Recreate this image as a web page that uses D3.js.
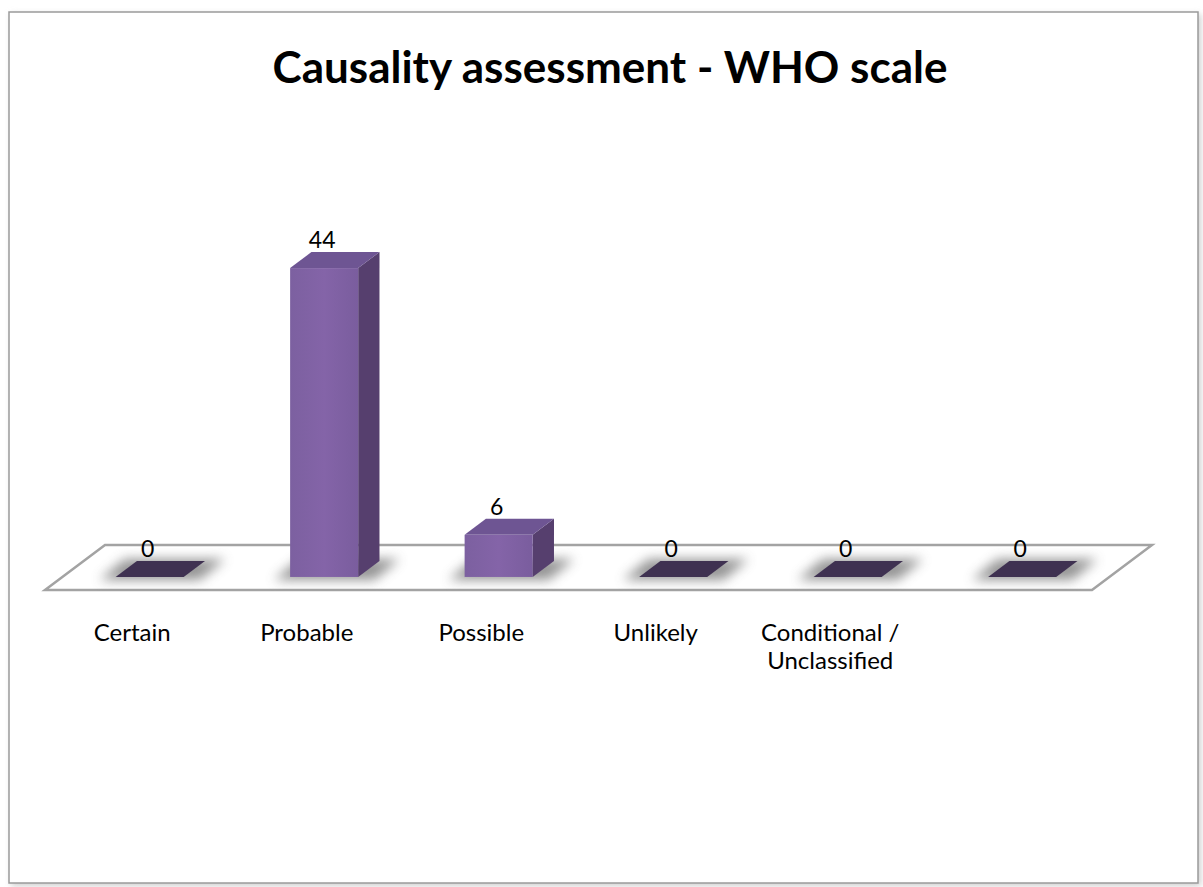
<!DOCTYPE html>
<html>
<head>
<meta charset="utf-8">
<script src="https://cdn.jsdelivr.net/npm/d3@7"></script>
<style>
  html, body { margin: 0; padding: 0; background: #ffffff; }
  svg { display: block; }
</style>
</head>
<body>
<svg id="chart" width="1203" height="887"></svg>
<script>
// Causality assessment counts (WHO-UMC scale)
const categories = ["Certain", "Probable", "Possible", "Unlikely", "Conditional / Unclassified", ""];
const values = [0, 44, 6, 0, 0, 0];
const titleText = "Causality assessment - WHO scale";

const W = 1203, H = 887;
const svg = d3.select("#chart");
const defs = svg.append("defs");

// soft shadows
const blur = defs.append("filter").attr("id", "blurShadow")
  .attr("x", "-50%").attr("y", "-50%").attr("width", "200%").attr("height", "200%");
blur.append("feGaussianBlur").attr("stdDeviation", 6);

const frameShadow = defs.append("filter").attr("id", "frameShadow")
  .attr("x", "-5%").attr("y", "-5%").attr("width", "110%").attr("height", "110%");
frameShadow.append("feGaussianBlur").attr("stdDeviation", 3);

const frontGrad = defs.append("linearGradient").attr("id", "frontGrad")
  .attr("x1", 0).attr("x2", 1).attr("y1", 0).attr("y2", 0);
frontGrad.append("stop").attr("offset", "0%").attr("stop-color", "#7c60a0");
frontGrad.append("stop").attr("offset", "50%").attr("stop-color", "#8464a8");
frontGrad.append("stop").attr("offset", "100%").attr("stop-color", "#7a5d9e");

// chart frame
svg.append("rect").attr("x", 11).attr("y", 14).attr("width", 1190).attr("height", 872)
  .attr("fill", "#cfcfcf").attr("filter", "url(#frameShadow)");
svg.append("rect").attr("x", 9).attr("y", 12).attr("width", 1189).attr("height", 871)
  .attr("fill", "#ffffff").attr("stroke", "#9a9a9a").attr("stroke-width", 1.5);

// title
svg.append("text")
  .attr("x", 610).attr("y", 83)
  .attr("text-anchor", "middle")
  .attr("font-family", "Lato, 'Open Sans', sans-serif")
  .attr("font-weight", "bold")
  .attr("font-size", 44)
  .attr("fill", "#000")
  .text(titleText);

// floor geometry: front edge and depth offset of the 3D floor
const floorFrontY = 590;
const depthDX = 60, depthDY = -45;

const x = d3.scaleBand()
  .domain(d3.range(categories.length))
  .range([45, 1092])
  .paddingInner(0).paddingOuter(0);

// bar height scale, base at the bar's front plane
const baseY = floorFrontY + depthDY * 0.29;
const y = d3.scaleLinear().domain([0, 50]).range([baseY, baseY - 351]);

// floor
const floorPts = [
  [x.range()[0], floorFrontY],
  [x.range()[1], floorFrontY],
  [x.range()[1] + depthDX, floorFrontY + depthDY],
  [x.range()[0] + depthDX, floorFrontY + depthDY]
];
svg.append("polygon")
  .attr("points", floorPts.map(p => p.join(",")).join(" "))
  .attr("fill", "#ffffff").attr("stroke", "#a3a3a3").attr("stroke-width", 2.5)
  .attr("stroke-linejoin", "miter");

// bar depth band inside the floor
const f0 = 0.29, f1 = 0.645;
const barFrac = 0.39;

const bars = svg.append("g");
categories.forEach((c, i) => {
  const v = values[i];
  const bw = x.bandwidth() * barFrac;
  const cx = x(i) + x.bandwidth() / 2 + depthDX * f0;
  const x0 = cx - bw / 2, x1 = cx + bw / 2;
  const ddx = depthDX * (f1 - f0), ddy = depthDY * (f1 - f0);
  const yb = y(0), yt = y(v);
  const g = bars.append("g");

  // shadow on the floor
  g.append("polygon")
    .attr("points", [[x0 - 16, yb + 3], [x1 + 16, yb + 3], [x1 + ddx + 20, yb + ddy - 2], [x0 + ddx - 12, yb + ddy - 2]]
      .map(p => p.join(",")).join(" "))
    .attr("fill", "#7a7a7a").attr("opacity", 0.8).attr("filter", "url(#blurShadow)");

  if (v === 0) {
    g.append("polygon")
      .attr("points", [[x0, yb], [x1, yb], [x1 + ddx, yb + ddy], [x0 + ddx, yb + ddy]]
        .map(p => p.join(",")).join(" "))
      .attr("fill", "#3f3151");
  } else {
    // side face
    g.append("polygon")
      .attr("points", [[x1, yb], [x1 + ddx, yb + ddy], [x1 + ddx, yt + ddy], [x1, yt]]
        .map(p => p.join(",")).join(" "))
      .attr("fill", "#563f6e");
    // top face
    g.append("polygon")
      .attr("points", [[x0, yt], [x1, yt], [x1 + ddx, yt + ddy], [x0 + ddx, yt + ddy]]
        .map(p => p.join(",")).join(" "))
      .attr("fill", "#6e5593");
    // front face
    g.append("rect")
      .attr("x", x0).attr("y", yt).attr("width", bw).attr("height", yb - yt)
      .attr("fill", "url(#frontGrad)");
  }

  // value label
  g.append("text")
    .attr("x", cx - 2).attr("y", yt - 20)
    .attr("text-anchor", "middle")
    .attr("font-family", "Lato, 'Open Sans', sans-serif")
    .attr("font-size", 23)
    .attr("fill", "#000")
    .text(v);
});

// category labels along the floor's front edge
const labels = svg.append("g");
categories.forEach((c, i) => {
  const lines = c.includes("/") ? [c.slice(0, c.indexOf("/") + 1), c.slice(c.indexOf("/") + 1).trim()] : [c];
  const t = labels.append("text")
    .attr("x", x(i) + x.bandwidth() / 2)
    .attr("y", 641)
    .attr("text-anchor", "middle")
    .attr("font-family", "Lato, 'Open Sans', sans-serif")
    .attr("font-size", 24)
    .attr("fill", "#000");
  lines.forEach((ln, k) => {
    t.append("tspan").attr("x", x(i) + x.bandwidth() / 2).attr("dy", k === 0 ? 0 : 28).text(ln);
  });
});
</script>
</body>
</html>
